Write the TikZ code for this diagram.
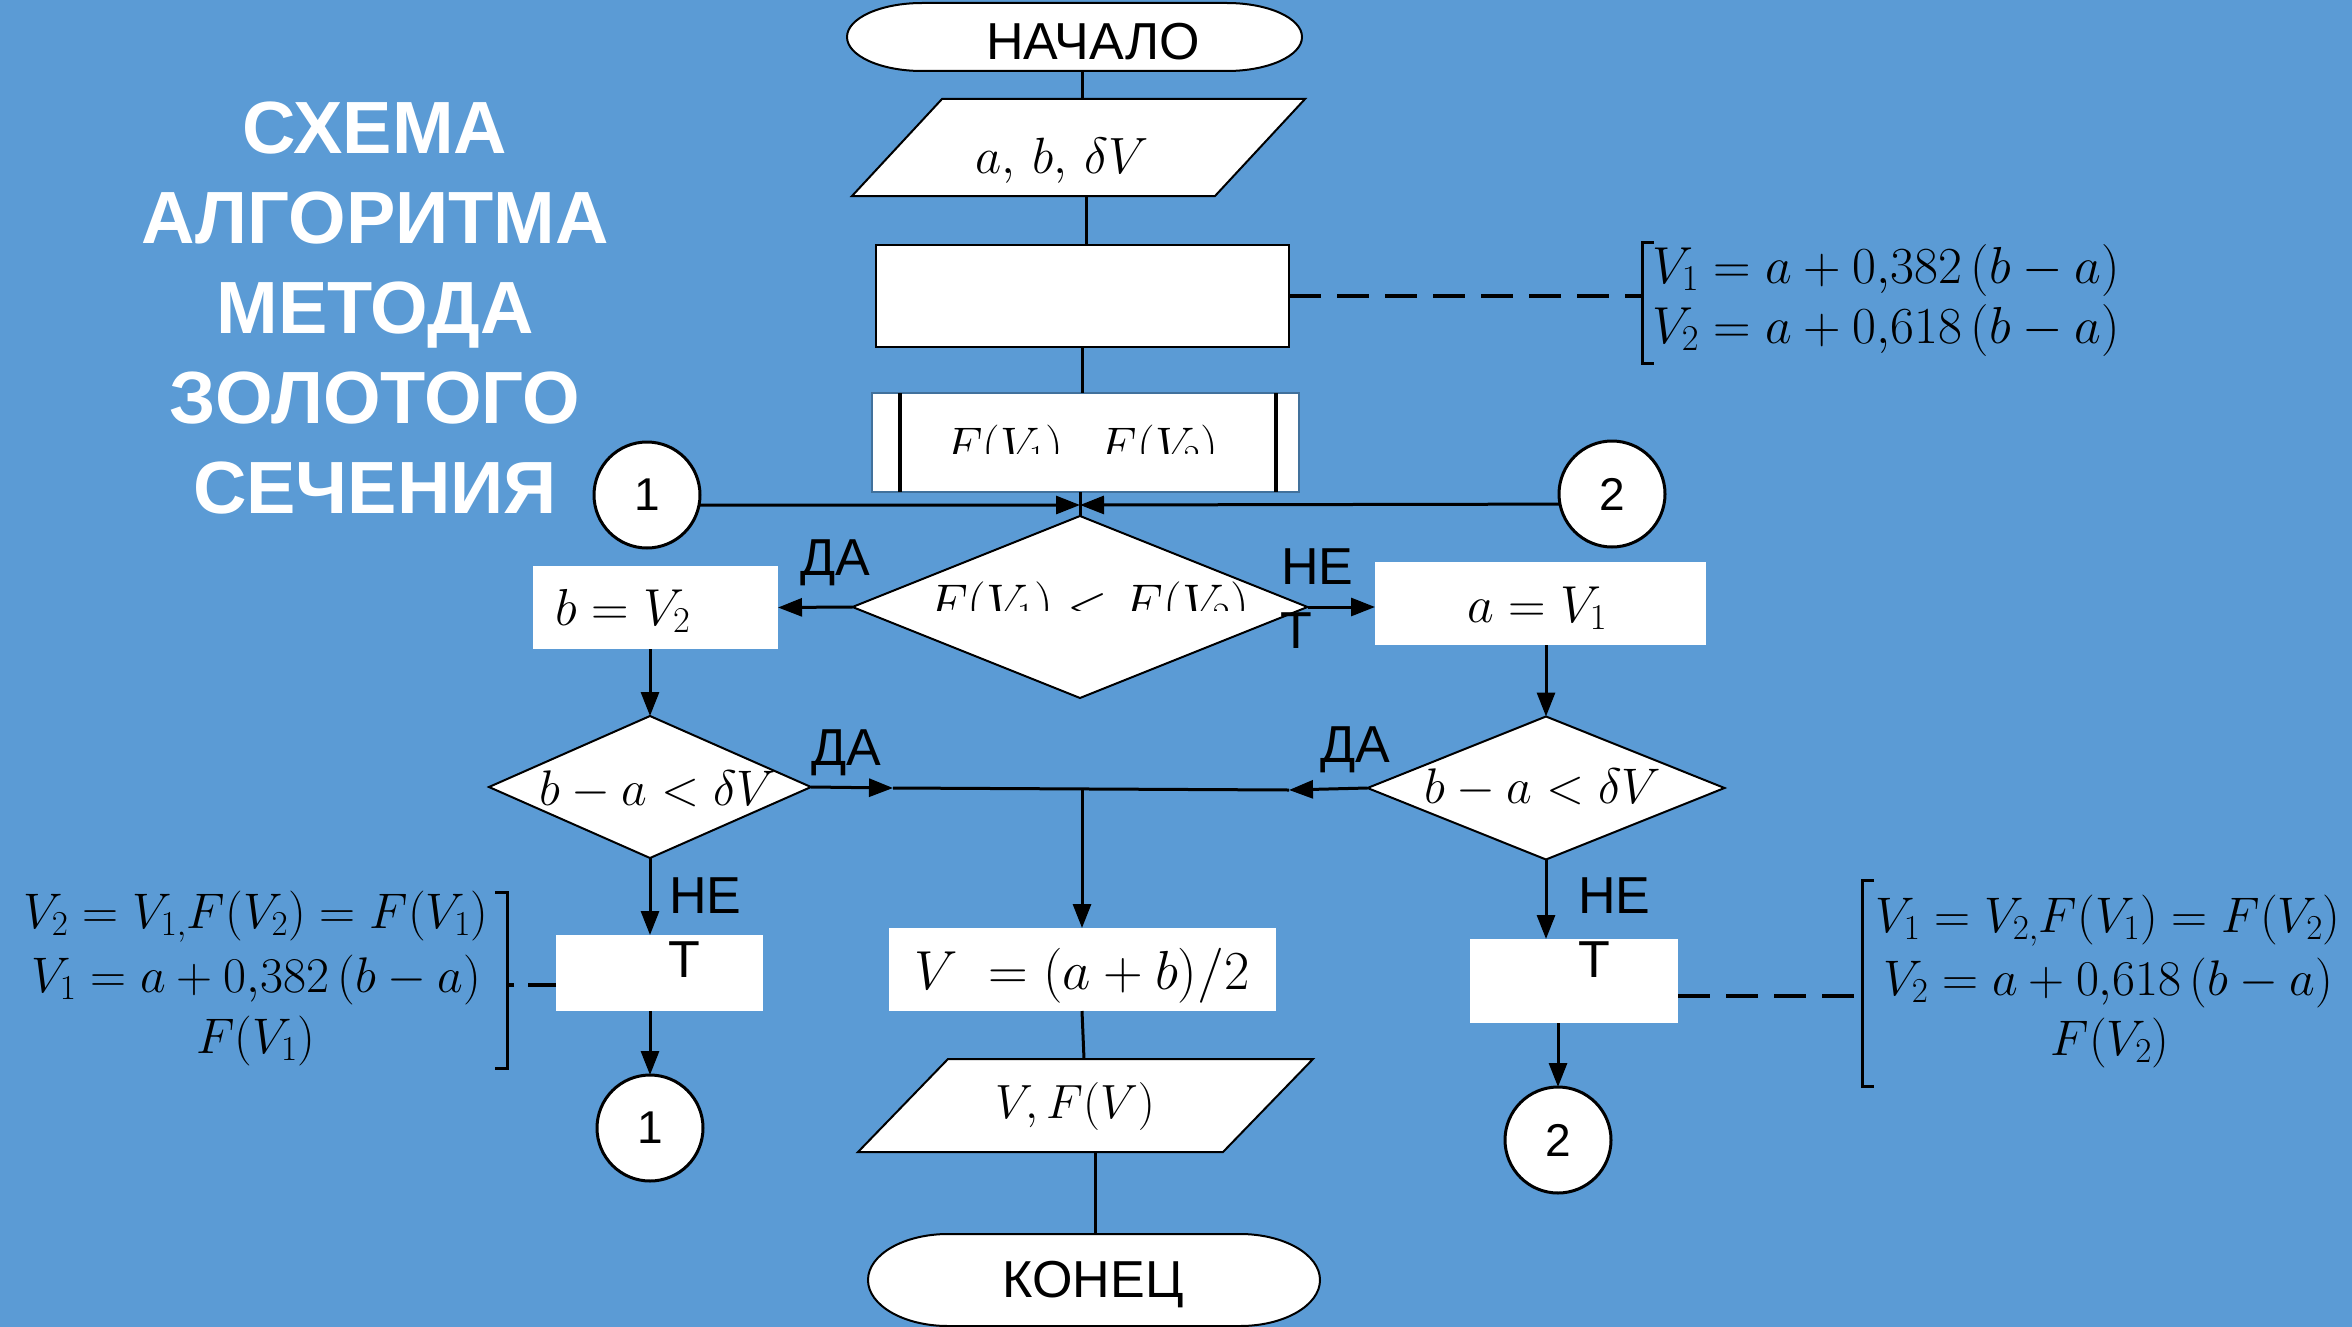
\RequirePackage{fix-cm}
\documentclass[tikz,border=0pt]{standalone}
\usepackage[no-math]{fontspec}
\setmainfont{Liberation Sans}
\usetikzlibrary{shapes.geometric, arrows.meta}
\definecolor{bg}{HTML}{5B9BD5}
\definecolor{ppedge}{HTML}{41719C}
\newcommand\setfs[1]{\fontsize{#1}{#1}\selectfont}

\begin{document}
\begin{tikzpicture}[x=1pt, y=-1pt,
  conn/.style={line width=3pt},
  arr/.style={line width=3pt, -{Triangle[length=24pt,width=18pt]}},
  frame/.style={rectangle, inner sep=0pt, outer sep=0pt},
  wbox/.style={frame, fill=white},
  outline/.style={fill=white, draw=black, line width=2pt},
  dec/.style={diamond, inner sep=0pt, outer sep=0pt, fill=white, draw=black, line width=2pt},
  conc/.style={circle, inner sep=0pt, outer sep=0pt, fill=white, draw=black, line width=3pt, minimum size=106pt, font=\setfs{46}},
  lbl/.style={inner sep=0pt, anchor=base west, font=\setfs{52}},
  mth/.style={inner sep=0pt, anchor=base},
  dsh/.style={line width=4pt, dash pattern=on 32pt off 16pt},
  brk/.style={line width=3pt}]

% background and page frame
\fill[bg] (0,0) rectangle (2352,1327);
\useasboundingbox (0,0) rectangle (2352,1327);

% title
\node[inner sep=0pt, anchor=north, align=center, text=white,
      font=\fontsize{74}{90}\selectfont\bfseries] (title) at (375,102)
  {СХЕМА\\АЛГОРИТМА\\МЕТОДА\\ЗОЛОТОГО\\СЕЧЕНИЯ};

% column of the main flow
\coordinate (col) at (1082,0);

% start terminal
\node[frame, minimum width=455pt, minimum height=68pt] (start) at (1074.5,37) {};
\draw[outline] ([xshift=75pt]start.north west) -- ([xshift=-75pt]start.north east)
  arc[start angle=90, end angle=-90, x radius=75pt, y radius=34pt]
  -- ([xshift=75pt]start.south west)
  arc[start angle=270, end angle=90, x radius=75pt, y radius=34pt] -- cycle;
\node[inner sep=0pt, anchor=base, font=\setfs{52}] (startt) at (1093,60) {НАЧАЛО};

% input
\node[frame, minimum width=453pt, minimum height=97pt] (in1) at (1078.5,147.5) {};
\draw[outline] ([xshift=90pt]in1.north west) -- (in1.north east)
  -- ([xshift=-90pt]in1.south east) -- (in1.south west) -- cycle;
\node[mth, font=\setfs{51}] (in1t) at (1062,173) {$a,\,b,\,\delta V$};

% initial points
\node[wbox, draw=black, line width=2pt, minimum width=413pt, minimum height=102pt] (r1) at (1082.5,296) {};

% predefined process
\node[wbox, draw=ppedge, line width=2pt, minimum width=427pt, minimum height=99pt] (pp) at (1085.5,442.5) {};
\draw[line width=3.5pt] ([xshift=28pt]pp.north west) -- ([xshift=28pt]pp.south west);
\draw[line width=3.5pt] ([xshift=-23pt]pp.north east) -- ([xshift=-23pt]pp.south east);
\begin{scope}
  \clip (880,400) rectangle (1290,453);
  \node[mth, font=\setfs{50}] (ppt) at (1081,462) {$F(V_1),\ F(V_2)$};
\end{scope}

% main decision
\node[dec, minimum width=455pt, minimum height=182pt] (d0) at (1080,607) {};
\begin{scope}
  \clip (880,560) rectangle (1290,610);
  \node[mth, font=\setfs{53}] (d0t) at (1088,621) {$F(V_1) < F(V_2)$};
\end{scope}

% branch assignments
\node[wbox, minimum width=245pt, minimum height=83pt] (bv2) at (655.5,607.5) {};
\node[mth, font=\setfs{52}] (bv2t) at (623,625) {$b = V_2$};
\node[wbox, minimum width=331pt, minimum height=83pt] (av1) at (1540.5,603.5) {};
\node[mth, font=\setfs{52}] (av1t) at (1537,622) {$a = V_1$};

% stopping tests
\node[dec, minimum width=322pt, minimum height=142pt] (dl) at (650,787) {};
\node[mth, font=\setfs{50}] (dlt) at (658,805) {$b - a < \delta V$};
\node[dec, minimum width=357pt, minimum height=143pt] (dr) at (1546,788) {};
\node[mth, font=\setfs{50}] (drt) at (1543,803) {$b - a < \delta V$};

% update boxes
\node[wbox, minimum width=207pt, minimum height=76pt] (tl) at (659.5,973) {};
\node[wbox, minimum width=208pt, minimum height=84pt] (tr) at (1574,981) {};

% result
\node[wbox, minimum width=387pt, minimum height=83pt] (vb) at (1082.5,969.5) {};
\node[mth, font=\setfs{55}] (vbt) at (1082,989) {$V\ = (a + b)/2$};

% output
\node[frame, minimum width=455pt, minimum height=93pt] (in2) at (1085.5,1105.5) {};
\draw[outline] ([xshift=90pt]in2.north west) -- (in2.north east)
  -- ([xshift=-90pt]in2.south east) -- (in2.south west) -- cycle;
\node[mth, font=\setfs{48}] (in2t) at (1075,1118) {$V, F(V)$};

% end terminal
\node[frame, minimum width=452pt, minimum height=92pt] (stop) at (1094,1280) {};
\draw[outline] ([xshift=80pt]stop.north west) -- ([xshift=-80pt]stop.north east)
  arc[start angle=90, end angle=-90, x radius=80pt, y radius=46pt]
  -- ([xshift=80pt]stop.south west)
  arc[start angle=270, end angle=90, x radius=80pt, y radius=46pt] -- cycle;
\node[inner sep=0pt, anchor=base, font=\setfs{52}] (stopt) at (1093,1297) {КОНЕЦ};

% connectors
\node[conc] (c1) at (647,495) {1};
\node[conc] (c2) at (1612,494) {2};
\node[conc] (c1b) at (650,1128) {1};
\node[conc] (c2b) at (1558,1140) {2};

\coordinate (mtop) at (1080,505);
\coordinate (jl) at (893,788);
\coordinate (jr) at (1289,790);
\coordinate (jc) at (1082,789);

% flow lines
\draw[conn] (start.south -| col) -- (in1.north -| col);
\draw[conn] ([xshift=4pt]in1.south -| col) -- ([xshift=4pt]r1.north -| col);
\draw[conn] (r1.south -| col) -- (pp.north -| col);
\draw[conn] (pp.south -| d0.north) -- (d0.north);
\draw[arr] (c1.-11) -- (mtop);
\draw[arr] (c2.191) -- (mtop);
\draw[arr] (d0.west) -- (bv2.east);
\draw[arr] (d0.east) -- (d0.east -| av1.west);
\draw[arr] (dl.north |- bv2.south) -- (dl.north);
\draw[arr] (dr.north |- av1.south) -- (dr.north);
\draw[arr] (dl.east) -- (jl);
\draw[conn] (jl) -- (jr);
\draw[arr] (dr.west) -- (jr);
\draw[arr] (jc) -- (vb.north -| jc);
\draw[arr] (dl.south) -- (dl.south |- tl.north);
\draw[arr] (dr.south) -- (dr.south |- tr.north);
\draw[arr] (tl.south -| c1b.north) -- (c1b.north);
\draw[arr] (tr.south -| c2b.north) -- (c2b.north);
\draw[conn] (vb.south -| col) -- ([xshift=2pt]in2.north -| col);
\draw[conn] ([xshift=13pt]in2.south -| col) -- ([xshift=13pt]stop.north -| col);

% branch labels
\node[lbl] (da1) at (800,575) {ДА};
\node[lbl] (ne1) at (1281,584) {НЕ};
\node[lbl] (t1) at (1280,648) {Т};
\node[lbl] (da2) at (811,765) {ДА};
\node[lbl] (da3) at (1320,762) {ДА};
\node[lbl] (ne2) at (669,913) {НЕ};
\node[lbl] (t2) at (668,977) {Т};
\node[lbl] (ne3) at (1578,913) {НЕ};
\node[lbl] (t3) at (1578,977) {Т};

% comments with brackets
\coordinate (bk1) at (1642,296);
\coordinate (bk2) at (1862,996);
\coordinate (bk3) at (507,985);
\draw[dsh] (r1.east) -- (bk1);
\draw[dsh] ([yshift=-15pt]tr.east) -- (bk2);
\draw[dsh, dash pattern=on 28pt off 14pt] ([yshift=-12pt]tl.west) -- (bk3);
\draw[brk] (1654,242) -- (1642,242) -- (1642,363) -- (1654,363);
\draw[brk] (1874,880) -- (1862,880) -- (1862,1086) -- (1874,1086);
\draw[brk] (495,892) -- (507,892) -- (507,1068) -- (495,1068);

\node[inner sep=0pt, anchor=base west, font=\setfs{52}] (f1a) at (1652,283) {$V_1 = a + 0{,}382\,(b - a)$};
\node[inner sep=0pt, anchor=base west, font=\setfs{52}] (f1b) at (1652,343) {$V_2 = a + 0{,}618\,(b - a)$};

\node[mth, font=\setfs{50}] (f2a) at (2108,932) {$V_1 = V_{2,}F(V_1) = F(V_2)$};
\node[mth, font=\setfs{50}] (f2b) at (2108,995) {$V_2 = a + 0{,}618\,(b - a)$};
\node[mth, font=\setfs{50}] (f2c) at (2110,1055) {$F(V_2)$};

\node[mth, font=\setfs{50}] (f3a) at (256,928) {$V_2 = V_{1,}F(V_2) = F(V_1)$};
\node[mth, font=\setfs{50}] (f3b) at (256,992) {$V_1 = a + 0{,}382\,(b - a)$};
\node[mth, font=\setfs{50}] (f3c) at (256,1053) {$F(V_1)$};
\end{tikzpicture}
\end{document}
